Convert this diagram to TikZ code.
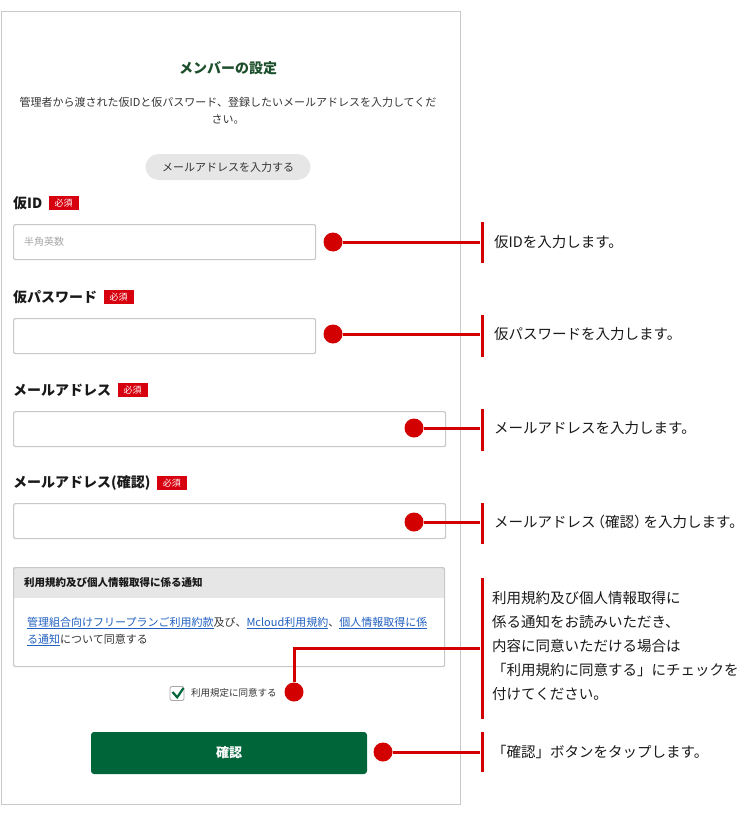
\documentclass[tikz,border=0pt]{standalone}
\usepackage{fontspec}
\setmainfont{Noto Sans CJK JP}
\usepackage{xcolor}
\usepackage{tikz}
\usetikzlibrary{positioning}

\definecolor{markred}{HTML}{D20000}
\definecolor{badgered}{HTML}{D7000F}
\definecolor{formgreen}{HTML}{00663A}
\definecolor{titlegreen}{HTML}{1D4F2C}
\definecolor{framegray}{HTML}{C8C8C8}
\definecolor{panelgray}{HTML}{E6E6E6}
\definecolor{linkblue}{HTML}{1F5FBF}
\definecolor{bodygray}{HTML}{333333}

\newcommand{\linktxt}[1]{\textcolor{linkblue}{\underline{#1}}}

\tikzset{
  txt/.style={inner sep=0pt, anchor=west},
  lbl/.style={txt, text=black!90, font=\fontsize{14}{16}\selectfont\bfseries},
  badge/.style={fill=badgered, text=white, inner sep=0pt, minimum width=30pt, minimum height=14pt, font=\fontsize{9}{10}\selectfont},
  field/.style={draw=framegray, line width=1.2pt, rounded corners=2pt, fill=white, anchor=north west, minimum height=35pt, inner sep=0pt},
  panelbox/.style={draw=framegray, line width=1pt, anchor=north west, inner sep=0pt},
  pill/.style={fill=panelgray, rounded corners=13pt, minimum width=165pt, minimum height=26pt, text=bodygray, font=\fontsize{11}{13}\selectfont},
  dot/.style={circle, fill=markred, minimum size=19pt, inner sep=0pt},
  bar/.style={fill=markred, minimum width=3pt, inner sep=0pt},
  conn/.style={draw=markred, line width=3pt},
  tick/.style={draw=formgreen, line width=2.2pt},
  note/.style={txt, text=black!90, font=\fontsize{14.5}{24}\selectfont, align=left},
}

\begin{document}
\begin{tikzpicture}[x=1pt, y=-1pt]
\useasboundingbox (0,0) rectangle (750,816);
\node at (0.5,11) (panel) [panelbox, minimum width=459.5pt, minimum height=793pt] {};
\node at (228,68) (title) [inner sep=0pt, text=titlegreen, font=\fontsize{14}{16}\selectfont\bfseries] {メンバーの設定};
\node at (228,110.5) (intro) [inner sep=0pt, align=center, text=bodygray, font=\fontsize{11}{17}\selectfont] {管理者から渡された仮IDと仮パスワード、登録したいメールアドレスを入力してくだ\\さい。};
\node at (228,167) (mailbtn) [pill] {メールアドレスを入力する};

\node at (13,203) (lab1) [lbl] {仮ID};
\node [badge, right=6pt of lab1] (req1) {必須};
\node at (13,224) (f1) [field, minimum width=302pt] {};
\node at (24,242) (hint1) [txt, text=black!35, font=\fontsize{10}{12}\selectfont] {半角英数};

\node at (13,297) (lab2) [lbl] {仮パスワード};
\node [badge, right=6pt of lab2] (req2) {必須};
\node at (13,318) (f2) [field, minimum width=302pt] {};

\node at (13,390) (lab3) [lbl] {メールアドレス};
\node [badge, right=6pt of lab3] (req3) {必須};
\node at (13,411) (f3) [field, minimum width=432pt] {};

\node at (13,483) (lab4) [lbl] {メールアドレス(確認)};
\node [badge, right=6pt of lab4] (req4) {必須};
\node at (13,503) (f4) [field, minimum width=432pt] {};

\node at (13,567) (termshead) [anchor=north west, fill=panelgray, inner sep=0pt, minimum width=431pt, minimum height=31pt] {};
\node at (13,567) (terms) [field, fill=none, minimum width=431pt, minimum height=99pt] {};
\node at (24,583) (termstitle) [txt, text=black!90, font=\fontsize{10.5}{12}\selectfont\bfseries] {利用規約及び個人情報取得に係る通知};
\node at (27,631.5) (termsbody) [txt, align=left, text=bodygray, font=\fontsize{11}{17}\selectfont] {\linktxt{管理組合向けフリープランご利用約款}及び、\linktxt{Mcloud利用規約}、\linktxt{個人情報取得に係}\\\linktxt{る通知}について同意する};

\node at (177,693.5) (cb) [draw=black!35, line width=0.8pt, fill=white, rounded corners=2pt, minimum size=14pt, inner sep=0pt] {};
\draw[tick] ([xshift=-4.5pt,yshift=1.5pt]cb.center) -- ([xshift=0.2pt,yshift=-3.8pt]cb.center) -- ([xshift=6.5pt,yshift=5.5pt]cb.center);
\node at (191,693) (agree) [txt, text=bodygray, font=\fontsize{9.5}{11}\selectfont] {利用規定に同意する};

\node at (229,753) (confirm) [fill=formgreen, rounded corners=3pt, minimum width=276pt, minimum height=42pt, text=white, font=\fontsize{13}{15}\selectfont\bfseries] {確認};

\node at (333,242) (d1) [dot] {};
\node at (333,334) (d2) [dot] {};
\node at (414,428) (d3) [dot] {};
\node at (414,522) (d4) [dot] {};
\node at (294,692) (d5) [dot] {};
\node at (383,752) (d6) [dot] {};

\node at (482,242.5) (bar1) [bar, minimum height=41pt] {};
\node at (482,336) (bar2) [bar, minimum height=42pt] {};
\node at (482,430) (bar3) [bar, minimum height=42pt] {};
\node at (482,523.5) (bar4) [bar, minimum height=41pt] {};
\node at (482,648.5) (bar5) [bar, minimum height=141pt] {};
\node at (482,752) (bar6) [bar, minimum height=40pt] {};

\draw[conn] (d1) -- (d1 -| bar1.west);
\draw[conn] (d2) -- (d2 -| bar2.west);
\draw[conn] (d3) -- (d3 -| bar3.west);
\draw[conn] (d4) -- (d4 -| bar4.west);
\draw[conn] (d5) |- (bar5);
\draw[conn] (d6) -- (d6 -| bar6.west);

\node at (494,242) (n1) [note] {仮IDを入力します。};
\node at (494,334) (n2) [note] {仮パスワードを入力します。};
\node at (494,428) (n3) [note] {メールアドレスを入力します。};
\node at (494,522) (n4) [note] {メールアドレス\kern-5pt（確認）\kern-5pt を入力します。};
\node at (492,646) (n5) [note] {利用規約及び個人情報取得に\\係る通知をお読みいただき、\\内容に同意いただける場合は\\「利用規約に同意する」にチェックを\\付けてください。};
\node at (492,752) (n6) [note] {「確認」ボタンをタップします。};
\end{tikzpicture}
\end{document}
